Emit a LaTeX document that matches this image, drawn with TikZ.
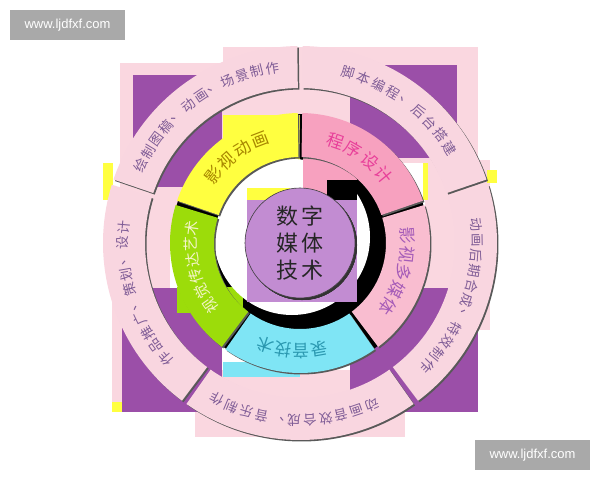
\documentclass[tikz,border=0pt]{standalone}
\usepackage{fontspec}
\setmainfont{Liberation Sans}
\newfontfamily\cjk{Noto Sans CJK SC}
\definecolor{bgpink}{HTML}{FAD7E0}
\definecolor{bgpurple}{HTML}{9B4FA8}
\definecolor{bgyellow}{HTML}{FFFF40}
\definecolor{ringpink}{HTML}{F9D6E0}
\definecolor{segyellow}{HTML}{FFFF40}
\definecolor{segpink}{HTML}{F7A1BF}
\definecolor{seglight}{HTML}{F9BDD0}
\definecolor{segcyan}{HTML}{7FE5F5}
\definecolor{seggreen}{HTML}{9CDC0A}
\definecolor{corelilac}{HTML}{C28CD2}
\definecolor{markgray}{HTML}{A9A9A9}
\definecolor{outertext}{HTML}{7F5C96}
\newcommand{\sector}[5]{% colour, from, to, inner, outer
  \fill[black!65, shift={(1.5,-1.5)}] (#2:#4) arc (#2:#3:#4) -- (#3:#5) arc (#3:#2:#5) -- cycle;
  \fill[#1] (#2:#4) arc (#2:#3:#4) -- (#3:#5) arc (#3:#2:#5) -- cycle;
}
\newcommand{\ringtext}[6]{% name, radius, start, step, style, characters
  \foreach \ch [count=\i from 0] in {#6}
    \node[#5, rotate={#3-\i*#4-90}] (#1-\i) at ({#3-\i*#4}:#2) {\ch};
}
\tikzset{outer/.style={font=\cjk\fontsize{13.5}{13.5}\selectfont, text=outertext, inner sep=0pt},
         inner/.style={font=\cjk\fontsize{17}{17}\selectfont, inner sep=0pt},
         watermark/.style={fill=markgray, text=white, font=\fontsize{13}{13}\selectfont,
                      minimum width=115pt, minimum height=30pt, inner sep=0pt}}
\begin{document}
\begin{tikzpicture}[x=1pt,y=1pt]
\useasboundingbox (0,0) rectangle (600,480);
\fill[white] (0,0) rectangle (600,480);
% squares behind the rings
\foreach \xa/\ya/\xb/\yb in {120/235/300/417,223/317/478/433,112/68/170/280,195/43/405/110,
                             478/150/490/320,425/190/478/320}
  \fill[bgpink] (\xa,\ya) rectangle (\xb,\yb);
\foreach \xa/\ya/\xb/\yb in {133/293/222/405,350/322/457/415,122/68/222/192,350/68/478/192}
  \fill[bgpurple] (\xa,\ya) rectangle (\xb,\yb);
\fill[black] (300,237) circle (129);
\foreach \xa/\ya/\xb/\yb in {223/320/300/365,103/280/113/317,112/68/122/78,423/280/428/317,487/297/497/310}
  \fill[bgyellow] (\xa,\ya) rectangle (\xb,\yb);
\fill[seggreen] (177,167) rectangle (243,193);
\fill[segcyan] (223,103) rectangle (300,118);
\begin{scope}
  \clip (300,237) circle (86);
  \fill[white] (292,243) circle (78);
  \fill[segpink] (303,277) rectangle (357,360);
  \fill[black] (327,277) rectangle (357,300);
  \fill[bgyellow] (247,280) rectangle (290,292);
  \fill[corelilac] (247,178) rectangle (357,280);
\end{scope}
\begin{scope}[shift={(300,237)}]
  % inner ring
  \sector{segyellow}{91}{161}{86}{130}
  \sector{segpink}{19}{89}{86}{130}
  \sector{seglight}{-53}{17}{86}{130}
  \sector{segcyan}{-125}{-55}{86}{130}
  \sector{seggreen}{163}{233}{86}{130}
  % outer ring
  \foreach \a in {90,18,-54,-126,162}
    \sector{ringpink}{\a+0.8}{\a+71.2}{155}{197}
  \fill[black!80] (2,-2) circle (55);
  \node[circle, minimum size=110pt, fill=corelilac, draw=black!75, line width=0.6pt,
        align=center, inner sep=0pt, font=\cjk\fontsize{22}{27}\selectfont, text=black!85] (core) at (0,0)
        {数\hspace{4pt}字\\媒\hspace{4pt}体\\技\hspace{4pt}术};
  \ringtext{anim}{110}{142}{10.3}{inner, text={rgb,255:red,168;green,135;blue,0}}{影,视,动,画}
  \ringtext{prog}{108}{71}{10.7}{inner, text={rgb,255:red,232;green,64;blue,154}}{程,序,设,计}
  \ringtext{film}{108}{4}{10}{inner, text={rgb,255:red,166;green,92;blue,184}}{影,视,多,媒,体}
  \ringtext{sound}{108}{-80}{9.5}{inner, text={rgb,255:red,43;green,152;blue,176}}{录,音,技,术}
  \ringtext{visual}{109}{215}{8.6}{inner, font=\cjk\fontsize{15}{15}\selectfont,
                                   text={rgb,255:red,244;green,244;blue,200}}{视,觉,传,达,艺,术}
  \ringtext{draw}{177}{154}{5}{outer}{绘,制,图,稿,、,动,画,、,场,景,制,作}
  \ringtext{code}{177}{74}{5.2}{outer}{脚,本,编,程,、,后,台,搭,建}
  \ringtext{post}{177}{6}{5}{outer}{动,画,后,期,合,成,、,特,效,制,作}
  \ringtext{audio}{177}{-66}{5.2}{outer}{动,画,音,效,合,成,、,音,乐,制,作}
  \ringtext{promo}{177}{220.7}{5.08}{outer}{作,品,推,广,、,策,划,、,设,计}
\end{scope}
\node[watermark] (mark1) at (67.5,455) {www.ljdfxf.com};
\node[watermark] (mark2) at (532.5,25) {www.ljdfxf.com};
\end{tikzpicture}
\end{document}
